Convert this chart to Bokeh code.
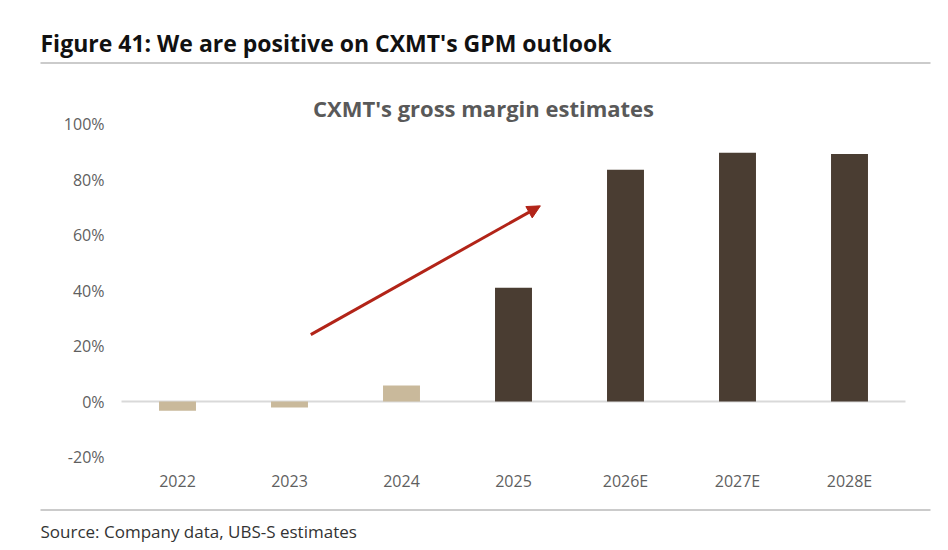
from bokeh.plotting import figure
from bokeh.models import (Range1d, Arrow, NormalHead, Label, BoxAnnotation, FixedTicker)
from bokeh.embed import file_html
from bokeh.resources import INLINE

# ---- data ----
years = ["2022", "2023", "2024", "2025", "2026E", "2027E", "2028E"]
gross_margin = [-3.3, -2.2, 5.8, 41.0, 83.5, 89.6, 89.2]   # %
y_ticks = [-20, 0, 20, 40, 60, 80, 100]
# arrow (in category-slot units, %)
arrow_start = (1.69, 24.1)
arrow_end = (3.74, 70.5)

header_text = "Figure 41: We are positive on CXMT's GPM outlook"
chart_title = "CXMT's gross margin estimates"
source_text = "Source: Company data, UBS-S estimates"

BEIGE = "#C9B99B"
DARK = "#4A3D32"
RED = "#B22418"
RULE = "#CBCBCB"
bar_colors = [BEIGE, BEIGE, BEIGE, DARK, DARK, DARK, DARK]

# ---- page geometry (pixels) ----
W, H = 940, 545
X0_PX, SLOT_PX = 121, 112          # left edge of first category slot, slot width
Y0_PX, PCT_PX = 401, 333 / 120     # pixel row of 0 %, pixels per 1 %


def dx(px):
    return (px - X0_PX) / SLOT_PX


def dy(py):
    return (Y0_PX - py) / PCT_PX


p = figure(width=W, height=H, x_range=Range1d(dx(0), dx(W)), y_range=Range1d(dy(H), dy(0)),
           output_backend="svg", toolbar_location=None,
           min_border=0, min_border_left=0, min_border_right=0, min_border_top=0, min_border_bottom=0)
p.outline_line_color = None
p.xgrid.grid_line_color = None
p.ygrid.grid_line_color = None

n = len(years)
xpos = [i + 0.5 for i in range(n)]

# zero line across the category area
p.segment(x0=[0], x1=[n], y0=[0], y1=[0], line_color="#D9D9D9", line_width=2)

p.vbar(x=xpos, top=gross_margin, bottom=0, width=0.33, color=bar_colors, line_color=None)

p.add_layout(Arrow(x_start=arrow_start[0], y_start=arrow_start[1], x_end=arrow_end[0], y_end=arrow_end[1],
                   line_color=RED, line_width=3,
                   end=NormalHead(size=13, fill_color=RED, line_color=RED)))

# axes placed inside the full-canvas frame
p.yaxis.fixed_location = 0
p.xaxis.fixed_location = y_ticks[0]
p.yaxis.ticker = FixedTicker(ticks=y_ticks)
p.yaxis.major_label_overrides = {t: f"{t}%" for t in y_ticks}
p.xaxis.ticker = FixedTicker(ticks=xpos)
p.xaxis.major_label_overrides = {x: y for x, y in zip(xpos, years)}
for ax in (p.xaxis[0], p.yaxis[0]):
    ax.axis_line_color = None
    ax.major_tick_line_color = None
    ax.minor_tick_line_color = None
    ax.major_tick_out = 0
    ax.major_tick_in = 0
    ax.major_label_text_font = "Open Sans"
    ax.major_label_text_font_size = "16px"
    ax.major_label_text_color = "#5F5F5F"
p.yaxis.major_label_standoff = 17
p.xaxis.major_label_standoff = 13

# header, title, rules, source
p.add_layout(Label(x=dx(40), y=dy(42), text=header_text, text_font="Open Sans", text_font_style="bold",
                   text_font_size="23px", text_color="#111111", text_baseline="middle"))
p.add_layout(Label(x=dx(483), y=dy(107), text=chart_title, text_align="center", text_baseline="middle",
                   text_font="Open Sans", text_font_style="bold", text_font_size="22px",
                   text_color="#595959"))
for yy in (62.5, 509.5):
    p.add_layout(BoxAnnotation(left=dx(40), right=dx(930), top=dy(yy - 1), bottom=dy(yy + 1),
                               fill_color=RULE, fill_alpha=1, line_color=None))
p.add_layout(Label(x=dx(40), y=dy(531), text=source_text, text_baseline="middle",
                   text_font="Open Sans", text_font_size="17px", text_color="#333333"))

open("out.html", "w").write(file_html(p, INLINE))
